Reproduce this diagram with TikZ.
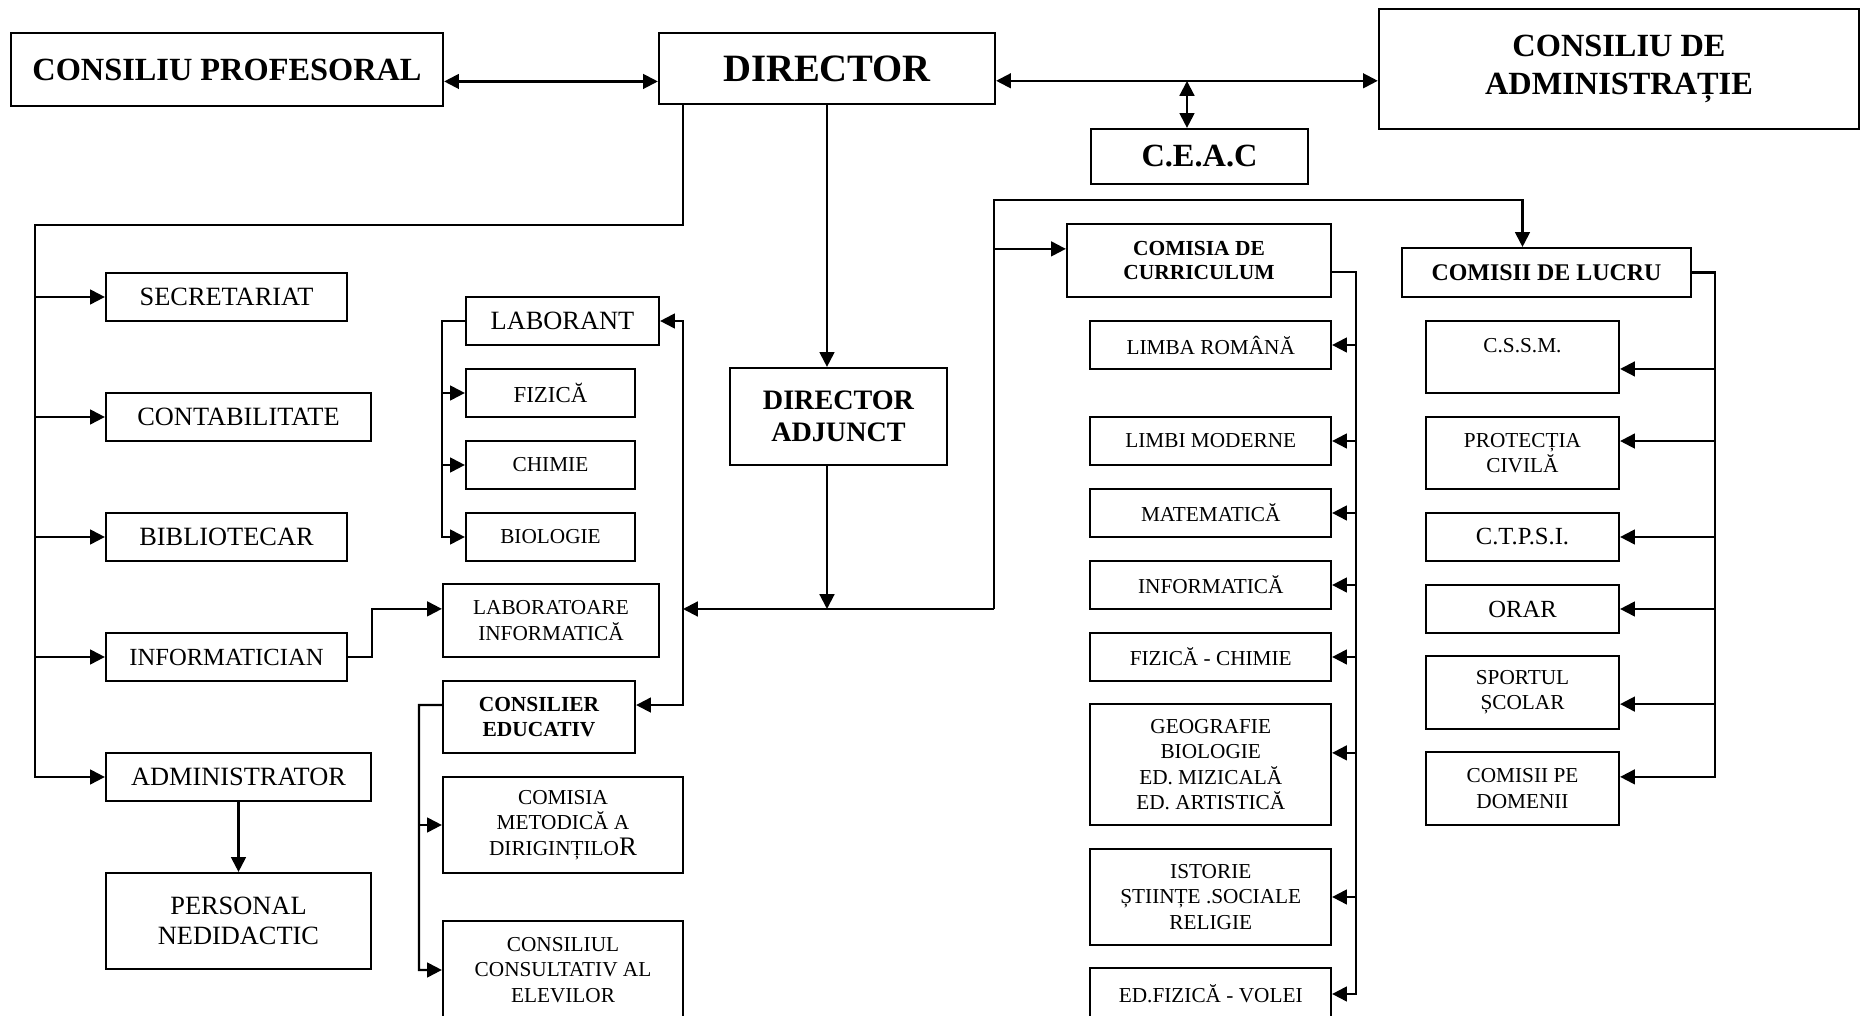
\documentclass[tikz,border=0pt]{standalone}
\usepackage{fontspec}
\setmainfont{Liberation Serif}
\usetikzlibrary{arrows.meta}
\tikzset{
  wh/.style 2 args={minimum width=#1, minimum height=#2},
  box/.style={draw, inner sep=1pt, align=center},
  head/.style={box, font=\fontsize{9.2}{10.6}\selectfont\bfseries},
  norm/.style={box, font=\fontsize{7.5}{8.4}\selectfont},
  small/.style={box, font=\fontsize{6.05}{7.2}\selectfont},
  smallb/.style={box, font=\fontsize{6.1}{7.1}\selectfont\bfseries}
}

\begin{document}
\begin{tikzpicture}[x=0.01cm, y=-0.01cm, line width=0.6pt, >={Triangle[length=4.2pt,width=4.2pt]}]
              \path[use as bounding box, fill=white] (0,0) rectangle (1865,1016);

              \node[head, wh={4.32cm}{0.73cm}] (cp) at (227,69.5) {CONSILIU PROFESORAL};
              \node[box, font=\fontsize{11}{13}\selectfont\bfseries, wh={3.36cm}{0.71cm}] (dir) at (827,68.5) {DIRECTOR};
              \node[head, wh={4.80cm}{1.20cm}] (cda) at (1619,69) {CONSILIU DE\\ADMINISTRAȚIE};
              \node[head, wh={2.17cm}{0.55cm}] (ceac) at (1199.5,156.5) {C.E.A.C};

              \node[norm, wh={2.41cm}{0.48cm}] (secr) at (226.5,297) {SECRETARIAT};
              \node[norm, wh={2.65cm}{0.48cm}] (cont) at (238.5,417) {CONTABILITATE};
              \node[norm, wh={2.41cm}{0.48cm}] (bibl) at (226.5,537) {BIBLIOTECAR};
              \node[norm, font=\fontsize{7}{8}\selectfont, wh={2.41cm}{0.48cm}] (info) at (226.5,657) {INFORMATICIAN};
              \node[norm, wh={2.65cm}{0.48cm}] (adm) at (238.5,777) {ADMINISTRATOR};
              \node[norm, wh={2.65cm}{0.96cm}] (pers) at (238.5,921) {PERSONAL\\NEDIDACTIC};

              \node[norm, wh={1.93cm}{0.48cm}] (lab) at (562.5,321) {LABORANT};
              \node[small, font=\fontsize{6.5}{7.2}\selectfont, wh={1.69cm}{0.48cm}] (fiz) at (550.5,393) {FIZICĂ};
              \node[small, wh={1.69cm}{0.48cm}] (chim) at (550.5,465) {CHIMIE};
              \node[small, wh={1.69cm}{0.48cm}] (bio) at (550.5,537) {BIOLOGIE};
              \node[small, wh={2.16cm}{0.73cm}] (labinf) at (551,620.5) {LABORATOARE\\INFORMATICĂ};
              \node[smallb, wh={1.92cm}{0.72cm}] (cons) at (539,717) {CONSILIER\\EDUCATIV};
              \node[small, wh={2.40cm}{0.96cm}] (cmd) at (563,825) {COMISIA\\METODICĂ A\\DIRIGINȚILO{\fontsize{7.6}{7.2}\selectfont R}};
              \node[small, wh={2.40cm}{0.98cm}] (cce) at (563,970) {CONSILIUL\\CONSULTATIV AL\\ELEVILOR};

              \node[box, font=\fontsize{8}{9.1}\selectfont\bfseries, wh={2.17cm}{0.97cm}] (da) at (838.5,416.5) {DIRECTOR\\ADJUNCT};

              \node[smallb, wh={2.64cm}{0.73cm}] (cc) at (1199,260.5) {COMISIA DE\\CURRICULUM};
              \node[small, wh={2.405cm}{0.48cm}] (lr) at (1210.75,345) {LIMBA ROMÂNĂ};
              \node[small, wh={2.405cm}{0.48cm}] (lm) at (1210.75,441) {LIMBI MODERNE};
              \node[small, wh={2.405cm}{0.48cm}] (mat) at (1210.75,513) {MATEMATICĂ};
              \node[small, wh={2.405cm}{0.48cm}] (inf) at (1210.75,585) {INFORMATICĂ};
              \node[small, wh={2.405cm}{0.48cm}] (fc) at (1210.75,657) {FIZICĂ - CHIMIE};
              \node[small, wh={2.405cm}{1.21cm}] (geo) at (1210.75,764.5) {GEOGRAFIE\\BIOLOGIE\\ED. MIZICALĂ\\ED. ARTISTICĂ};
              \node[small, wh={2.405cm}{0.96cm}] (ist) at (1210.75,897) {ISTORIE\\ȘTIINȚE .SOCIALE\\RELIGIE};
              \node[small, wh={2.405cm}{0.52cm}] (edf) at (1210.75,994) {ED.FIZICĂ - VOLEI};

              \node[box, font=\fontsize{6.8}{8}\selectfont\bfseries, wh={2.89cm}{0.49cm}] (cl) at (1546.5,272.5) {COMISII DE LUCRU};
              \node[small, wh={1.93cm}{0.72cm}] (cssm) at (1522.5,357) {\raisebox{1.4pt}[0pt][0pt]{C.S.S.M.}};
              \node[small, wh={1.93cm}{0.72cm}] (prot) at (1522.5,453) {PROTECȚIA\\CIVILĂ};
              \node[small, font=\fontsize{7}{8}\selectfont, wh={1.93cm}{0.48cm}] (ctpsi) at (1522.5,537) {C.T.P.S.I.};
              \node[small, font=\fontsize{7}{8}\selectfont, wh={1.93cm}{0.48cm}] (orar) at (1522.5,609) {ORAR};
              \node[small, wh={1.93cm}{0.73cm}] (sport) at (1522.5,692.5) {SPORTUL\\ȘCOLAR};
              \node[small, wh={1.93cm}{0.73cm}] (cpd) at (1522.5,788.5) {COMISII PE\\DOMENII};

              \coordinate (cj) at (1187,81);
              \coordinate (kl) at (683,225);
              \coordinate (lb) at (35,225);
              \coordinate (bus) at (994,609);
              \coordinate (lv) at (683,609);
              \coordinate (cv) at (419,705);
              \coordinate (tb) at (994,200);

              \draw[<->] ([yshift=-3.4pt]cp.east) -- ([yshift=-3.4pt]cp.east -| dir.west);
              \draw[<->] ([yshift=-3.5pt]dir.east) -- ([yshift=-3.5pt]dir.east -| cda.west);
              \draw[<->] (cj) -- (cj |- ceac.north);

              \draw[->] (kl |- dir.south) -- (kl) -- (lb) |- (adm.west);
              \foreach \n in {secr,cont,bibl,info} \draw[<-] (\n.west) -- ++(-71,0);
              \draw[->] (adm) -- (pers);
              \draw[->] (info.east) -- ++(23.5,0) |- ([yshift=3.3pt]labinf.west);

              \draw[->] (lab.west) -- (lab.west -| labinf.west) |- (bio.west);
              \foreach \n in {fiz,chim} \draw[<-] (\n.west) -- ++(-23,0);

              \draw[->] (dir.south) -- (dir.south |- da.north);
              \draw[->] (dir.south |- da.south) -- (dir.south |- bus);
              \draw[->] (bus) -- (lv);
              \draw[->] (lv) |- (lab.east);
              \draw[->] (lv) |- ([yshift=3.4pt]cons.east);

              \draw[->] ([yshift=3.4pt]cons.west) -- (cv) |- (cce.west);
              \draw[<-] (cmd.west) -- ++(-24,0);

              \draw[->] (bus) -- (tb) -| (cssm |- cl.north);
              \draw[<-] ([yshift=3.3pt]cc.west) -- ++(-73,0);
              \draw[->] ([yshift=-3.3pt]cc.east) -- ++(23.6,0) |- (edf.east);
              \foreach \n/\s in {lr/0,lm/0,mat/0,inf/0,fc/0,geo/3.3,ist/0} \draw[<-] ([yshift=\s pt]\n.east) -- ++(23.6,0);

              \draw[->] (cl.east) -- ++(23,0) |- ([yshift=3.3pt]cpd.east);
              \foreach \n/\s in {cssm/-3.4,prot/3.4,ctpsi/0,orar/0,sport/-3.3} \draw[<-] ([yshift=\s pt]\n.east) -- ++(95,0);
          \end{tikzpicture}
\end{document}
